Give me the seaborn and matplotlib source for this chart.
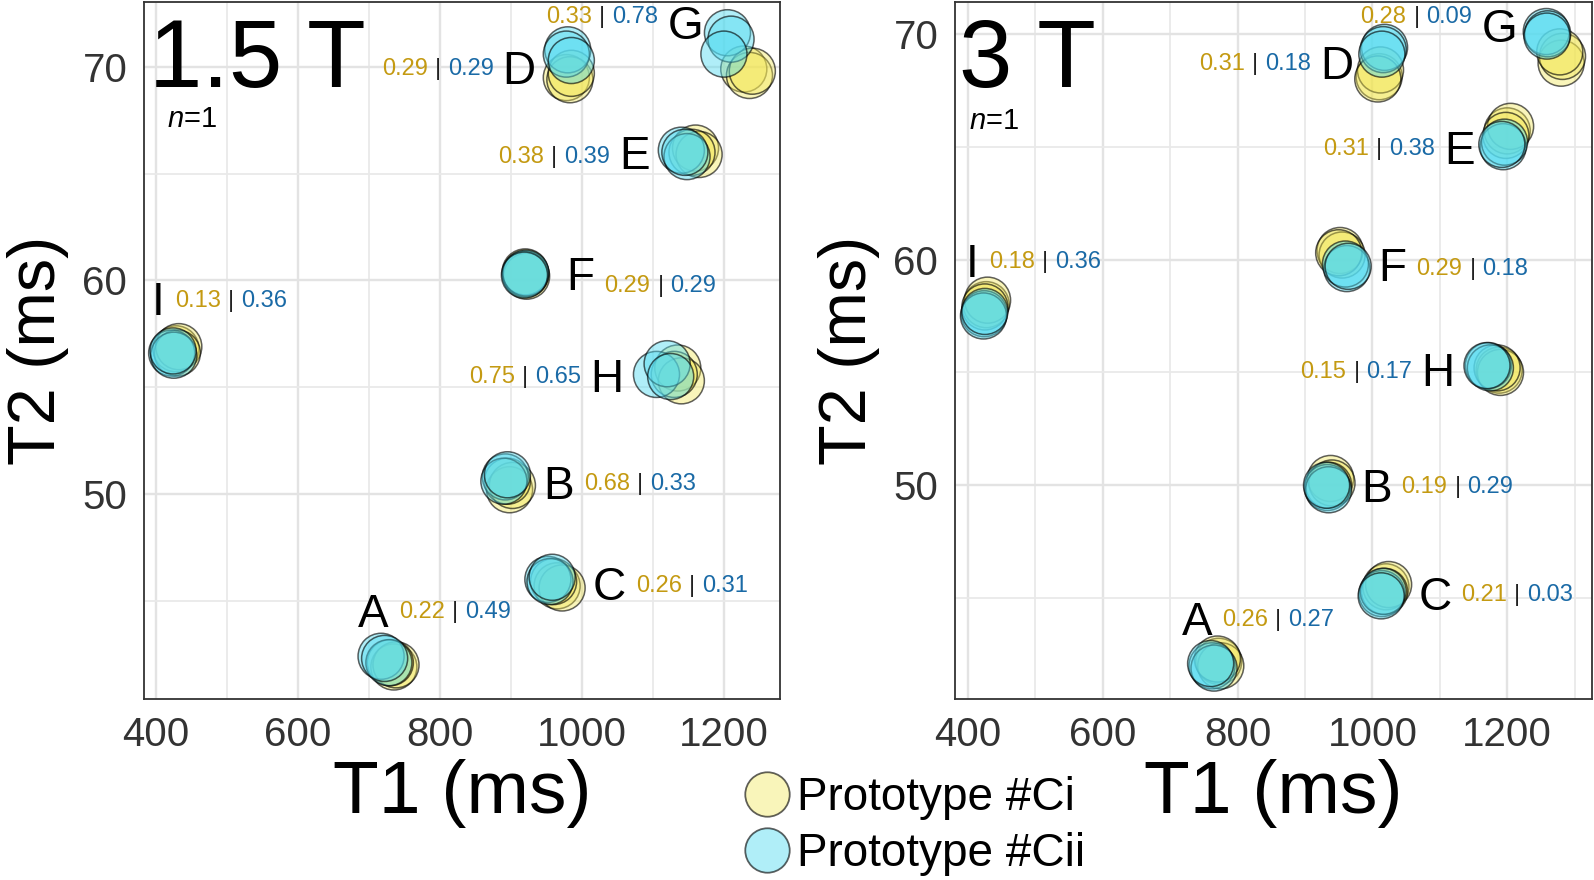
import numpy as np
import pandas as pd
import matplotlib
matplotlib.use("Agg")
import matplotlib.pyplot as plt
from matplotlib.lines import Line2D
from matplotlib.ticker import MultipleLocator
import seaborn as sns

# ---------------- data ----------------
phantoms = ["A", "B", "C", "D", "E", "F", "G", "H", "I"]
prototypes = ["Prototype #Ci", "Prototype #Cii"]

# 1.5 T, three repeated measurements per phantom
t1_15_ci = [[735, 738, 730], [898, 902, 895], [965, 972, 960], [978, 983, 985], [1160, 1165, 1155],
            [921, 922, 920], [1228, 1236, 1240], [1135, 1140, 1130], [428, 432, 430]]
t2_15_ci = [[41.9, 42.0, 42.1], [50.2, 50.4, 50.6], [45.7, 45.6, 45.9], [69.5, 69.4, 69.7], [66.2, 65.9, 66.0],
            [60.3, 60.2, 60.4], [69.9, 69.6, 69.8], [55.9, 55.3, 55.6], [56.8, 56.9, 56.6]]
t1_15_cii = [[717, 728, 722], [892, 890, 895], [952, 955, 958], [980, 978, 985], [1140, 1148, 1145],
             [920, 921, 919], [1205, 1210, 1200], [1105, 1120, 1125], [422, 425, 424]]
t2_15_cii = [[42.4, 42.1, 42.3], [50.8, 50.6, 50.9], [46.0, 45.9, 46.1], [70.8, 70.6, 70.3], [66.1, 65.8, 66.0],
             [60.3, 60.35, 60.25], [71.6, 71.3, 70.6], [55.6, 56.1, 55.5], [56.6, 56.5, 56.7]]

# 3 T
t1_3_ci = [[772, 775, 770], [938, 940, 935], [1020, 1024, 1018], [1010, 1012, 1008], [1200, 1205, 1198],
           [952, 955, 950], [1280, 1282, 1278], [1188, 1190, 1185], [427, 429, 425]]
t2_3_ci = [[42.2, 42.0, 42.3], [50.3, 50.1, 50.0], [45.5, 45.6, 45.3], [68.1, 68.4, 68.0], [65.7, 65.9, 65.5],
           [60.4, 60.2, 60.3], [68.7, 69.0, 69.2], [55.1, 55.0, 55.2], [58.0, 58.2, 57.9]]
t1_3_cii = [[762, 765, 760], [933, 935, 932], [1014, 1016, 1013], [1018, 1016, 1014], [1194, 1196, 1192],
            [962, 960, 964], [1258, 1260, 1259], [1172, 1175, 1170], [424, 423, 425]]
t2_3_cii = [[42.0, 41.9, 42.1], [49.9, 49.8, 50.0], [45.2, 45.3, 45.1], [69.4, 69.3, 69.1], [65.0, 65.2, 65.1],
            [59.6, 59.8, 59.7], [70.1, 70.0, 69.9], [55.3, 55.2, 55.3], [57.6, 57.5, 57.7]]

# per-phantom values printed next to the labels
val_15_ci = ["0.22", "0.68", "0.26", "0.29", "0.38", "0.29", "0.33", "0.75", "0.13"]
val_15_cii = ["0.49", "0.33", "0.31", "0.29", "0.39", "0.29", "0.78", "0.65", "0.36"]
val_3_ci = ["0.26", "0.19", "0.21", "0.31", "0.31", "0.29", "0.28", "0.15", "0.18"]
val_3_cii = ["0.27", "0.29", "0.03", "0.18", "0.38", "0.18", "0.09", "0.17", "0.36"]

x_ticks = [400, 600, 800, 1000, 1200]
y_ticks = [50, 60, 70]

# ---------------- style ----------------
FILL_CI = (0.95, 0.90, 0.33, 0.40)
FILL_CII = (0.33, 0.86, 0.94, 0.46)
EDGE = (0.0, 0.0, 0.0, 0.62)
GOLD = "#C49A12"
BLUE = "#1A6AA6"

sns.set_style("white")
FONT = ["Liberation Sans", "DejaVu Sans"]
plt.rcParams["font.family"] = FONT
plt.rcParams["text.color"] = "black"
plt.rcParams["axes.labelcolor"] = "black"
plt.rcParams["mathtext.fontset"] = "custom"
plt.rcParams["mathtext.rm"] = "Liberation Sans"
plt.rcParams["mathtext.it"] = "Liberation Sans:italic"

# label layout: (side, dx px, dy px, numbers dy px)
layout_15 = {"A": ("r", -31, 52, 0), "B": ("r", 36, 0, 0), "C": ("r", 39, -1, 0),
             "D": ("l", -33, -1, 0), "E": ("l", -40, 0, -2), "F": ("r", 41, 1, -10),
             "G": ("l", -35, 35, 7), "H": ("l", -48, -2, 0), "I": ("r", -23, 53, 0)}
layout_3 = {"A": ("r", -34, 46, 0), "B": ("r", 32, 0, 0), "C": ("r", 34, -2, 0),
            "D": ("l", -28, 1, 0), "E": ("l", -31, -9, 0), "F": ("r", 35, -4, -3),
            "G": ("l", -37, 20, 11), "H": ("l", -39, -1, 0), "I": ("r", -19, 49, 0)}


def make_frame(t1a, t2a, t1b, t2b):
    rows = []
    for proto, t1s, t2s in ((prototypes[0], t1a, t2a), (prototypes[1], t1b, t2b)):
        for ph, xs, ys in zip(phantoms, t1s, t2s):
            for x, y in zip(xs, ys):
                rows.append({"T1": x, "T2": y, "proto": proto, "phantom": ph})
    return pd.DataFrame(rows)


fig = plt.figure(figsize=(15.94, 8.80), dpi=100)
ax1 = fig.add_axes([144 / 1594, 181 / 880, 636 / 1594, 697 / 880])
ax2 = fig.add_axes([955 / 1594, 181 / 880, 637 / 1594, 697 / 880])


def draw_panel(ax, df, vals_ci, vals_cii, layout, title, xlim, ylim, title_x, n_x, n_y):
    sns.scatterplot(data=df, x="T1", y="T2", hue="proto", hue_order=prototypes,
                    palette={prototypes[0]: FILL_CI, prototypes[1]: FILL_CII},
                    s=1100, edgecolor=EDGE, linewidth=1.1, legend=False, ax=ax, zorder=3)
    ax.set_xlim(*xlim)
    ax.set_ylim(*ylim)
    ax.set_xticks(x_ticks)
    ax.set_yticks(y_ticks)
    ax.xaxis.set_minor_locator(MultipleLocator(100))
    ax.yaxis.set_minor_locator(MultipleLocator(5))
    ax.grid(which="major", color="#E3E3E3", lw=1.7, zorder=0)
    ax.grid(which="minor", color="#E9E9E9", lw=1.3, zorder=0)
    ax.set_axisbelow(True)
    ax.tick_params(which="major", length=6, width=1.3, color="#333333", labelsize=29,
                   labelcolor="#333333", pad=6, direction="out")
    ax.tick_params(which="minor", length=0)
    for sp in ax.spines.values():
        sp.set_color("#333333")
        sp.set_linewidth(1.3)
    ax.set_xlabel("T1 (ms)", fontsize=54, labelpad=4, color="black")
    ax.set_ylabel("T2 (ms)", fontsize=48, labelpad=10, color="black")

    ax.text(title_x, 0.878, title, transform=ax.transAxes, fontsize=69, ha="left", va="baseline",
            color="black")
    ax.text(n_x, n_y, r"$\mathit{n}$=1", transform=ax.transAxes, fontsize=21, ha="left",
            va="baseline", color="black")

    means = df.groupby("phantom")[["T1", "T2"]].mean()
    for i, ph in enumerate(phantoms):
        side, dx, dy, ndy = layout[ph]
        mx, my = means.loc[ph, "T1"], means.loc[ph, "T2"]
        letter = ax.annotate(ph, xy=(mx, my), xytext=(dx, dy), textcoords="offset pixels",
                             fontsize=33, ha="left" if side == "r" else "right",
                             va="center_baseline", zorder=5, color="black")
        nkw = dict(fontsize=17, va="center_baseline", textcoords="offset pixels", zorder=5)
        if side == "r":
            t_a = ax.annotate(vals_ci[i], xy=(1, my), xycoords=(letter, "data"), xytext=(10, dy + ndy),
                              ha="left", color=GOLD, **nkw)
            t_b = ax.annotate("|", xy=(1, my), xycoords=(t_a, "data"), xytext=(7, dy + ndy),
                              ha="left", color="#222222", **nkw)
            ax.annotate(vals_cii[i], xy=(1, my), xycoords=(t_b, "data"), xytext=(7, dy + ndy),
                        ha="left", color=BLUE, **nkw)
        else:
            t_a = ax.annotate(vals_cii[i], xy=(0, my), xycoords=(letter, "data"), xytext=(-9, dy + ndy),
                              ha="right", color=BLUE, **nkw)
            t_b = ax.annotate("|", xy=(0, my), xycoords=(t_a, "data"), xytext=(-7, dy + ndy),
                              ha="right", color="#222222", **nkw)
            ax.annotate(vals_ci[i], xy=(0, my), xycoords=(t_b, "data"), xytext=(-7, dy + ndy),
                        ha="right", color=GOLD, **nkw)


df15 = make_frame(t1_15_ci, t2_15_ci, t1_15_cii, t2_15_cii)
df3 = make_frame(t1_3_ci, t2_3_ci, t1_3_cii, t2_3_cii)

draw_panel(ax1, df15, val_15_ci, val_15_cii, layout_15, "1.5 T", (383, 1279), (40.4, 73.04), 0.008, 0.036, 0.821)
draw_panel(ax2, df3, val_3_ci, val_3_cii, layout_3, "3 T", (380.7, 1325.8), (40.53, 71.41), 0.006, 0.022, 0.818)

handles = [Line2D([], [], ls="", marker="o", markersize=32, markerfacecolor=FILL_CI,
                  markeredgecolor=EDGE, markeredgewidth=1.3),
           Line2D([], [], ls="", marker="o", markersize=32, markerfacecolor=FILL_CII,
                  markeredgecolor=EDGE, markeredgewidth=1.3)]
leg = fig.legend(handles, prototypes, loc="upper left", bbox_to_anchor=(744 / 1594, 1 - 776 / 880),
                 frameon=False, fontsize=33, handlelength=1.0, handletextpad=0.15, labelspacing=0.26,
                 borderpad=0, borderaxespad=0)
for t in leg.get_texts():
    t.set_color("black")

fig.savefig("out.png", dpi=100)
